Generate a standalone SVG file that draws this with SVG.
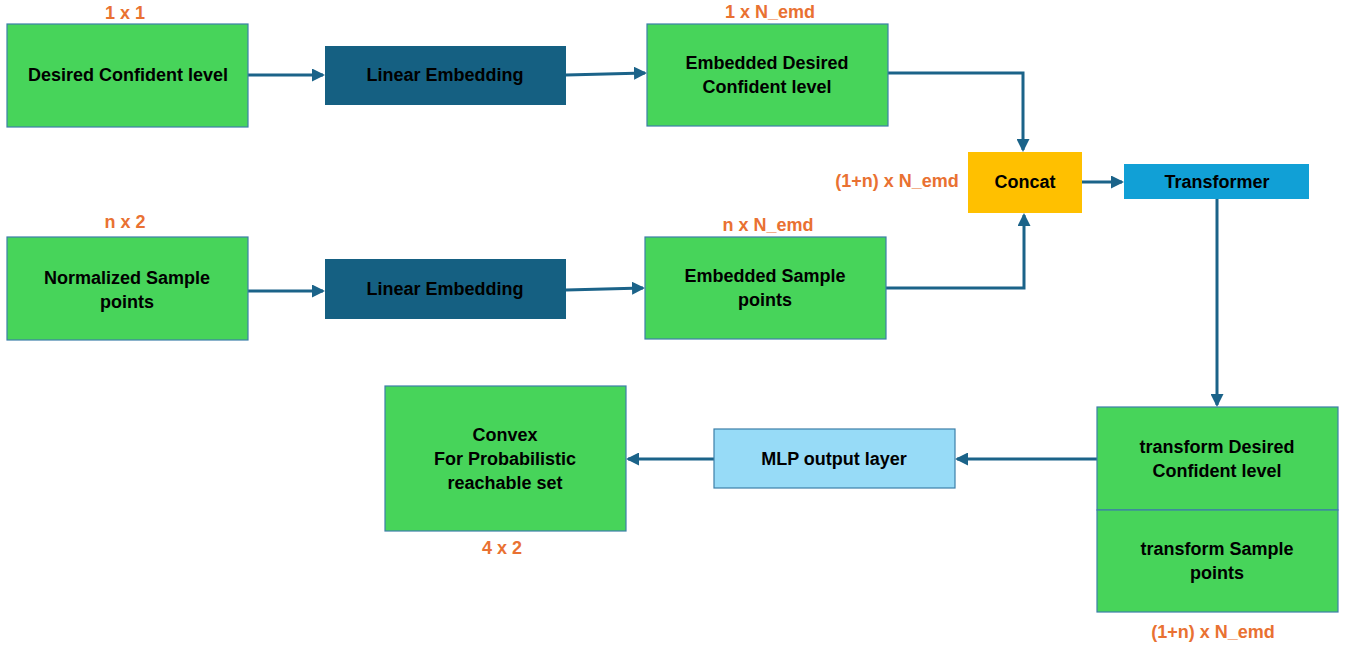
<svg xmlns="http://www.w3.org/2000/svg" width="1348" height="646" viewBox="0 0 1348 646">
<style>
text{font-family:"Liberation Sans",Arial,sans-serif;font-weight:bold;font-size:18px;text-anchor:middle;dominant-baseline:central}
.t{fill:#000}
.dim{fill:#E97132}
.g{fill:#47D45A;stroke:#3C7FA8;stroke-width:1.2}
.le{fill:#156082}
.cc{fill:#FFC000}
.tr{fill:#11A0D6}
.mlp{fill:#97DBF7;stroke:#3C7FA8;stroke-width:1.2}
.c{fill:none;stroke:#1B6389;stroke-width:3}
</style>
<defs>
<marker id="ah" markerWidth="13" markerHeight="13" refX="11" refY="6.5" orient="auto" markerUnits="userSpaceOnUse">
<path d="M0,0 L13,6.5 L0,13 Z" fill="#1B6389"/>
</marker>
</defs>
<rect width="1348" height="646" fill="#fff"/>
<g id="connectors">
<path class="c" d="M248,75 L323,75" marker-end="url(#ah)"/>
<path class="c" d="M566,75 L645,73" marker-end="url(#ah)"/>
<path class="c" d="M888,73 L1023,73 L1023,150" marker-end="url(#ah)"/>
<path class="c" d="M248,291 L323,291" marker-end="url(#ah)"/>
<path class="c" d="M566,290 L643,288" marker-end="url(#ah)"/>
<path class="c" d="M886,288 L1024,288 L1024,215" marker-end="url(#ah)"/>
<path class="c" d="M1082,182 L1122,182" marker-end="url(#ah)"/>
<path class="c" d="M1217,199 L1217,405" marker-end="url(#ah)"/>
<path class="c" d="M1097,459 L957,459" marker-end="url(#ah)"/>
<path class="c" d="M714,459 L628,459" marker-end="url(#ah)"/>
</g>
<g id="desired">
<rect class="g" x="7" y="24" width="241" height="103"/>
<text class="t" x="128" y="75">Desired Confident level</text>
<text class="dim" x="125" y="13">1 x 1</text>
</g>
<g id="linemb1">
<rect class="le" x="325" y="46" width="241" height="59"/>
<text class="t" x="445" y="75">Linear Embedding</text>
</g>
<g id="embdesired">
<rect class="g" x="647" y="24" width="241" height="102"/>
<text class="t" x="767" y="63">Embedded Desired</text>
<text class="t" x="767" y="87">Confident level</text>
<text class="dim" x="770" y="12">1 x N_emd</text>
</g>
<g id="concat">
<rect class="cc" x="968" y="152" width="114" height="61"/>
<text class="t" x="1025" y="182">Concat</text>
<text class="dim" x="897" y="181">(1+n) x N_emd</text>
</g>
<g id="transformer">
<rect class="tr" x="1124" y="164" width="185" height="35"/>
<text class="t" x="1217" y="182">Transformer</text>
</g>
<g id="normalized">
<rect class="g" x="7" y="237" width="241" height="103"/>
<text class="t" x="127" y="278">Normalized Sample</text>
<text class="t" x="127" y="302">points</text>
<text class="dim" x="125" y="222">n x 2</text>
</g>
<g id="linemb2">
<rect class="le" x="325" y="259" width="241" height="60"/>
<text class="t" x="445" y="289">Linear Embedding</text>
</g>
<g id="embsample">
<rect class="g" x="645" y="237" width="241" height="102"/>
<text class="t" x="765" y="276">Embedded Sample</text>
<text class="t" x="765" y="300">points</text>
<text class="dim" x="768" y="225">n x N_emd</text>
</g>
<g id="transformout">
<rect class="g" x="1097" y="407" width="241" height="103"/>
<rect class="g" x="1097" y="510" width="241" height="102"/>
<text class="t" x="1217" y="447">transform Desired</text>
<text class="t" x="1217" y="471">Confident level</text>
<text class="t" x="1217" y="549">transform Sample</text>
<text class="t" x="1217" y="573">points</text>
<text class="dim" x="1213" y="632">(1+n) x N_emd</text>
</g>
<g id="mlp">
<rect class="mlp" x="714" y="429" width="241" height="59"/>
<text class="t" x="834" y="459">MLP output layer</text>
</g>
<g id="convex">
<rect class="g" x="385" y="386" width="241" height="145"/>
<text class="t" x="505" y="435">Convex</text>
<text class="t" x="505" y="459">For Probabilistic</text>
<text class="t" x="505" y="483">reachable set</text>
<text class="dim" x="502" y="548">4 x 2</text>
</g>
</svg>
